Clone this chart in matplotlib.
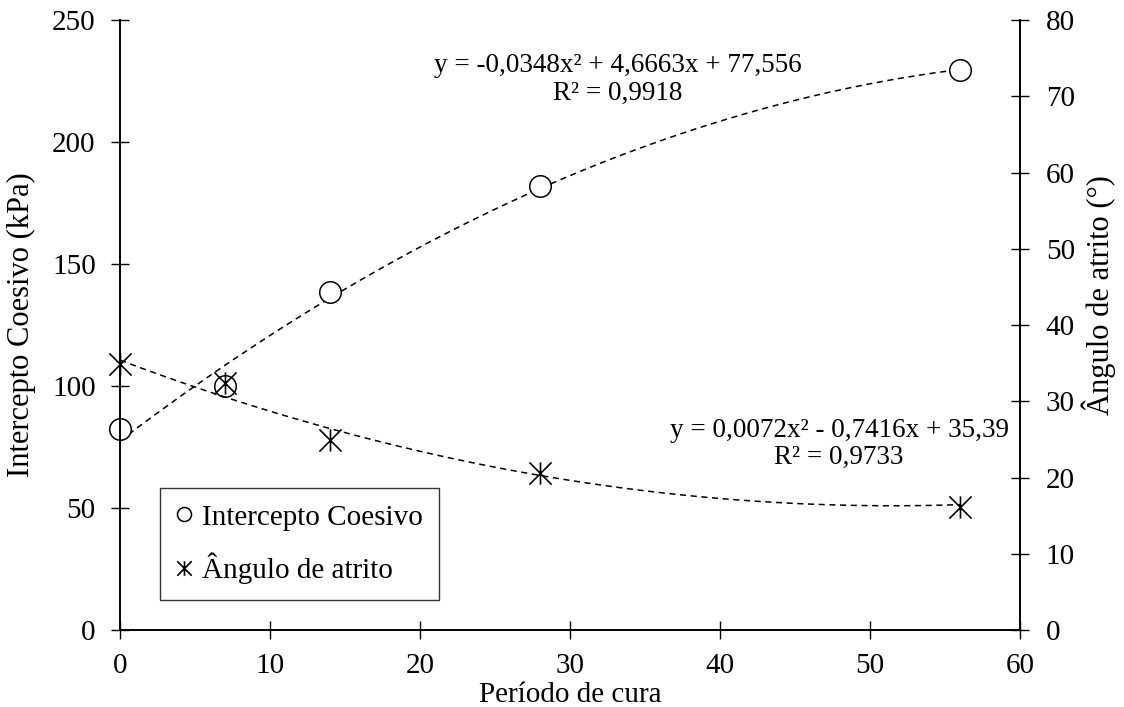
import matplotlib

matplotlib.use("Agg")
import matplotlib.pyplot as plt
import numpy as np
from matplotlib.path import Path

plt.rcParams["font.family"] = ["Liberation Serif", "DejaVu Serif"]

# cure period (days)
DIAS = [0, 7, 14, 28, 56]
# cohesion intercept (kPa), left axis
COESIVO = [82.4, 100.0, 138.5, 182.0, 229.5]
# friction angle (degrees), right axis
ANGULO = [34.9, 32.4, 24.9, 20.6, 16.1]

# quadratic trendlines shown on the chart
COEF_COESIVO = [-0.0348, 4.6663, 77.556]
COEF_ANGULO = [0.0072, -0.7416, 35.39]

EQ_COESIVO = "y = -0,0348x² + 4,6663x + 77,556\nR² = 0,9918"
EQ_ANGULO = "y = 0,0072x² - 0,7416x + 35,39\nR² = 0,9733"

# X with a vertical bar, like the spreadsheet "star" marker
STAR = Path(
    [(0, -1), (0, 1), (-1, -1), (1, 1), (-1, 1), (1, -1)],
    [Path.MOVETO, Path.LINETO, Path.MOVETO, Path.LINETO, Path.MOVETO, Path.LINETO],
)


def main() -> None:
    fig = plt.figure(figsize=(11.24, 7.07), dpi=100)
    ax = fig.add_axes([0.1068, 0.1089, 0.8007, 0.8628])
    ax2 = ax.twinx()

    xs = np.linspace(0, 56, 200)
    ax.plot(xs, np.polyval(COEF_COESIVO, xs), ls=(0, (4, 3)), color="black", lw=1.1)
    ax2.plot(xs, np.polyval(COEF_ANGULO, xs), ls=(0, (4, 3)), color="black", lw=1.1)

    h1 = ax.plot(DIAS, COESIVO, ls="none", marker="o", ms=15.5, mfc="white",
                 mec="black", mew=1.1, clip_on=False)[0]
    h2 = ax2.plot(DIAS, ANGULO, ls="none", marker=STAR, ms=16,
                  mec="black", mew=1.2, clip_on=False)[0]

    ax.set_xlim(0, 60)
    ax.set_ylim(0, 250)
    ax2.set_ylim(0, 80)
    ax.set_xticks(range(0, 61, 10))
    ax.set_yticks(range(0, 251, 50))
    ax2.set_yticks(range(0, 81, 10))

    for a in (ax, ax2):
        a.spines["top"].set_visible(False)
        for s in a.spines.values():
            s.set_linewidth(1.2)
        a.tick_params(labelsize=21, direction="inout", length=13, width=1.0, pad=11)
    ax.tick_params(axis="x", length=13, pad=10)
    ax2.tick_params(axis="y", pad=12)

    ax.set_xlabel("Período de cura", fontsize=21)
    ax.xaxis.set_label_coords(0.5, -0.086)
    ax.set_ylabel("Intercepto Coesivo (kPa)", fontsize=22)
    ax.yaxis.set_label_coords(-0.093, 0.5)
    ax2.set_ylabel("Ângulo de atrito (°)", fontsize=22)
    ax2.yaxis.set_label_coords(1.068, 0.549)

    ax.text(0.553, 0.903, EQ_COESIVO, transform=ax.transAxes, ha="center",
            va="center", fontsize=19.5, linespacing=1.15)
    ax.text(0.799, 0.305, EQ_ANGULO, transform=ax.transAxes, ha="center",
            va="center", fontsize=19.5, linespacing=1.15)

    leg = ax2.legend([h1, h2], ["Intercepto Coesivo", "Ângulo de atrito"],
                     loc="lower left", bbox_to_anchor=(0.044, 0.049),
                     borderaxespad=0, fontsize=21, fancybox=False,
                     edgecolor="black", handlelength=0.6, handletextpad=0.3,
                     markerscale=0.65, borderpad=0.55, labelspacing=0.75)
    leg.get_frame().set_linewidth(1.0)

    fig.savefig("out.png", dpi=100)


if __name__ == "__main__":
    main()
